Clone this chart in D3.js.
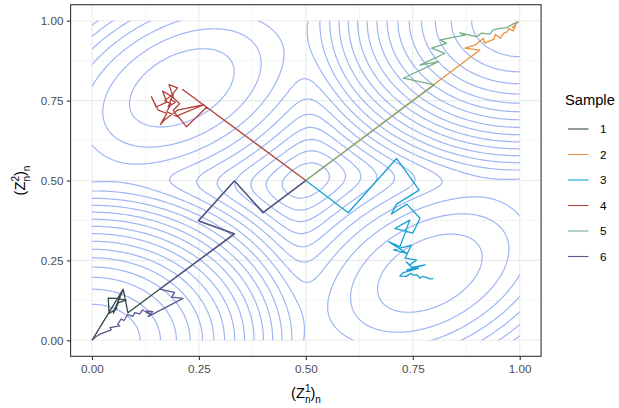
<!DOCTYPE html>
<html>
<head>
<meta charset="utf-8">
<style>
  body { margin: 0; background: #fff; }
  text { font-family: "Liberation Sans", Arial, sans-serif; }
</style>
</head>
<body>
<svg width="619" height="408"></svg>
<script src="https://d3js.org/d3.v7.min.js"></script>
<script>

// energy landscape: four bumps (two corner modes, two off-diagonal modes)
var modeX = [0, 1, 0.21, 0.79],
    modeY = [0, 1, 0.79, 0.21],
    depth = [0, 0, 12.2, 12.2],
    sdAlong = [0.079, 0.079, 0.114, 0.114],  // along the (1,1) direction
    sdAcross = [0.079, 0.079, 0.074, 0.074], // along the (1,-1) direction
    cap = [40, 40, 36, 36],
    blend = 1.6;

var levels = d3.range(1, 40);

// sample paths
var sample1 = [[0.5,0.5],[0.4,0.4],[0.333,0.499],[0.249,0.374],[0.333,0.333],[0.158,0.16],[0.084,0.086],
  [0.073,0.16],[0.05,0.088],[0.058,0.1],[0.04,0.084],[0.038,0.132],[0.055,0.131],[0.08,0.126],
  [0.062,0.118],[0.05,0.085],[0.073,0.16],[0,0]];
var sample2 = [[0.5,0.5],[0.907,0.908],[0.872,0.914],[0.896,0.924],[0.915,0.945],[0.918,0.93],[0.94,0.942],
  [0.943,0.957],[0.955,0.945],[0.962,0.96],[0.97,0.965],[0.975,0.975],[0.985,0.968],[0.99,0.985],
  [0.983,0.978],[0.997,0.997]];
var sample3 = [[0.5,0.5],[0.599,0.399],[0.712,0.569],[0.765,0.47],[0.712,0.426],[0.70,0.395],[0.736,0.426],
  [0.767,0.382],[0.75,0.335],[0.708,0.35],[0.743,0.376],[0.72,0.293],[0.693,0.309],[0.736,0.272],
  [0.705,0.283],[0.747,0.298],[0.732,0.257],[0.759,0.251],[0.743,0.236],[0.735,0.245],[0.748,0.228],
  [0.779,0.236],[0.736,0.22],[0.763,0.225],[0.728,0.212],[0.72,0.201],[0.735,0.2],[0.745,0.21],
  [0.751,0.204],[0.76,0.205],[0.767,0.194],[0.772,0.2],[0.782,0.197],[0.79,0.192],[0.798,0.193]];
var sample4 = [[0.5,0.5],[0.212,0.785],[0.268,0.729],[0.221,0.668],[0.2,0.703],[0.262,0.737],[0.2,0.72],
  [0.17,0.69],[0.16,0.675],[0.175,0.71],[0.155,0.72],[0.139,0.762],[0.15,0.73],[0.175,0.745],
  [0.165,0.78],[0.19,0.76],[0.18,0.8],[0.2,0.79],[0.185,0.765],[0.205,0.74],[0.19,0.72],[0.2,0.7],
  [0.175,0.715],[0.185,0.74],[0.17,0.75],[0.19,0.77],[0.178,0.73],[0.195,0.745],[0.182,0.755]];
var sample5 = [[0.5,0.5],[0.8,0.799],[0.728,0.82],[0.81,0.872],[0.767,0.861],[0.825,0.898],[0.794,0.914],
  [0.829,0.929],[0.814,0.94],[0.872,0.955],[0.86,0.962],[0.899,0.95],[0.911,0.961],[0.93,0.958],
  [0.938,0.971],[0.954,0.976],[0.97,0.978],[0.985,0.99],[0.997,0.997]];
var sample6 = [[0.5,0.5],[0.4,0.399],[0.333,0.499],[0.249,0.374],[0.333,0.333],[0.158,0.16],[0.193,0.15],
  [0.186,0.135],[0.213,0.131],[0.131,0.074],[0.142,0.09],[0.128,0.092],[0.137,0.08],[0.118,0.095],
  [0.112,0.083],[0.1,0.087],[0.096,0.075],[0.083,0.08],[0.075,0.062],[0.068,0.066],[0.06,0.05],
  [0.065,0.045],[0.042,0.04],[0.045,0.033],[0.02,0.02],[0.01,0.012],[0.003,0.003]];

var samples = ["1", "2", "3", "4", "5", "6"];
var paths = [sample1, sample2, sample3, sample4, sample5, sample6];
var colors = ["#34494f", "#e8923f", "#15a3d2", "#b4433b", "#74ae8a", "#5c5790"];

var ticks = [0, 0.25, 0.5, 0.75, 1];
var minorTicks = [0.125, 0.375, 0.625, 0.875];

var svg = d3.select("svg");

var x = d3.scaleLinear().domain([-0.05, 1.05]).range([70.6, 541.1]),
    y = d3.scaleLinear().domain([-0.05, 1.05]).range([356.3, 4.7]);

function energy(px, py) {
  var s = 0;
  for (var k = 0; k < modeX.length; k++) {
    var dx = px - modeX[k], dy = py - modeY[k],
        u = (dx + dy) / Math.SQRT2, v = (dx - dy) / Math.SQRT2,
        q = 0.5 * (u * u / (sdAlong[k] * sdAlong[k]) + v * v / (sdAcross[k] * sdAcross[k]));
    s += Math.exp(-(depth[k] + cap[k] * (1 - Math.exp(-q / cap[k]))) / blend);
  }
  return -blend * Math.log(s);
}

// grid a bit wider than [0,1] so the outer polygon edges fall outside the clip
var n = 261, x0 = -0.02, step = 1.04 / (n - 1);
var values = new Array(n * n);
for (var j = 0; j < n; j++)
  for (var i = 0; i < n; i++)
    values[i + j * n] = energy(x0 + i * step, x0 + j * step);

var contours = d3.contours().size([n, n]).thresholds(levels)(values);

var proj = d3.geoTransform({
  point: function(gx, gy) {
    this.stream.point(x(x0 + (gx - 0.5) * step), y(x0 + (gy - 0.5) * step));
  }
});

// panel grid
var grid = svg.append("g");
grid.selectAll(".minx").data(minorTicks).enter().append("line")
    .attr("x1", d => x(d)).attr("x2", d => x(d)).attr("y1", y.range()[0]).attr("y2", y.range()[1])
    .attr("stroke", "#ebebeb").attr("stroke-width", 0.55);
grid.selectAll(".miny").data(minorTicks).enter().append("line")
    .attr("y1", d => y(d)).attr("y2", d => y(d)).attr("x1", x.range()[0]).attr("x2", x.range()[1])
    .attr("stroke", "#ebebeb").attr("stroke-width", 0.55);
grid.selectAll(".majx").data(ticks).enter().append("line")
    .attr("x1", d => x(d)).attr("x2", d => x(d)).attr("y1", y.range()[0]).attr("y2", y.range()[1])
    .attr("stroke", "#ebebeb").attr("stroke-width", 1.1);
grid.selectAll(".majy").data(ticks).enter().append("line")
    .attr("y1", d => y(d)).attr("y2", d => y(d)).attr("x1", x.range()[0]).attr("x2", x.range()[1])
    .attr("stroke", "#ebebeb").attr("stroke-width", 1.1);

svg.append("clipPath").attr("id", "unit")
  .append("rect")
    .attr("x", x(0)).attr("y", y(1))
    .attr("width", x(1) - x(0)).attr("height", y(0) - y(1));

svg.append("g")
    .attr("clip-path", "url(#unit)")
  .selectAll("path")
  .data(contours)
  .enter().append("path")
    .attr("d", d3.geoPath(proj))
    .attr("fill", "none")
    .attr("stroke", "#9fb6f4")
    .attr("stroke-width", 1.2);

var line = d3.line().x(d => x(d[0])).y(d => y(d[1]));

svg.append("g").selectAll("path")
  .data(paths)
  .enter().append("path")
    .attr("d", line)
    .attr("fill", "none")
    .attr("stroke", (d, i) => colors[i])
    .attr("stroke-width", 1.3)
    .attr("stroke-linejoin", "round");

// panel border
svg.append("rect")
    .attr("x", x.range()[0]).attr("y", y.range()[1])
    .attr("width", x.range()[1] - x.range()[0]).attr("height", y.range()[0] - y.range()[1])
    .attr("fill", "none").attr("stroke", "#333333").attr("stroke-width", 1.1);

// axes
var xAxis = svg.append("g")
    .attr("transform", "translate(0," + y.range()[0] + ")")
    .call(d3.axisBottom(x).tickValues(ticks).tickFormat(d3.format(".2f")).tickSize(3.7).tickPadding(5));
var yAxis = svg.append("g")
    .attr("transform", "translate(" + x.range()[0] + ",0)")
    .call(d3.axisLeft(y).tickValues(ticks).tickFormat(d3.format(".2f")).tickSize(3.7).tickPadding(3.5));
[xAxis, yAxis].forEach(function(a) {
  a.select(".domain").remove();
  a.selectAll("line").attr("stroke", "#333333").attr("stroke-width", 1.1);
  a.selectAll("text").attr("fill", "#4d4d4d").style("font-size", "11.7px")
      .style("font-family", "'Liberation Sans', Arial, sans-serif");
});

// axis titles
function axisTitle(g, sup) {
  var t = g.append("text").attr("text-anchor", "middle").style("font-size", "14.7px").attr("fill", "#000");
  t.append("tspan").text("(Z");
  t.append("tspan").text(sup).style("font-size", "10px").attr("dy", -6);
  t.append("tspan").text("n").style("font-size", "10px").attr("dx", -5.6).attr("dy", 11);
  t.append("tspan").text(")").attr("dy", -5);
  t.append("tspan").text("n").style("font-size", "10px").attr("dy", 5);
}
axisTitle(svg.append("g").attr("transform", "translate(306,397.5)"), "1");
axisTitle(svg.append("g").attr("transform", "translate(25,180.5) rotate(-90)"), "2");

// legend
var legend = svg.append("g");
legend.append("text").attr("x", 565).attr("y", 105.2).style("font-size", "14.7px").text("Sample");
var keys = legend.selectAll(".key").data(samples).enter().append("g")
    .attr("transform", (d, i) => "translate(0," + (129 + i * 25.5) + ")");
keys.append("line").attr("x1", 568).attr("x2", 588.5)
    .attr("stroke", (d, i) => colors[i]).attr("stroke-width", 1.1);
keys.append("text").attr("x", 600).attr("y", 4.1).style("font-size", "11.7px").text(d => d);

</script>
</body>
</html>
